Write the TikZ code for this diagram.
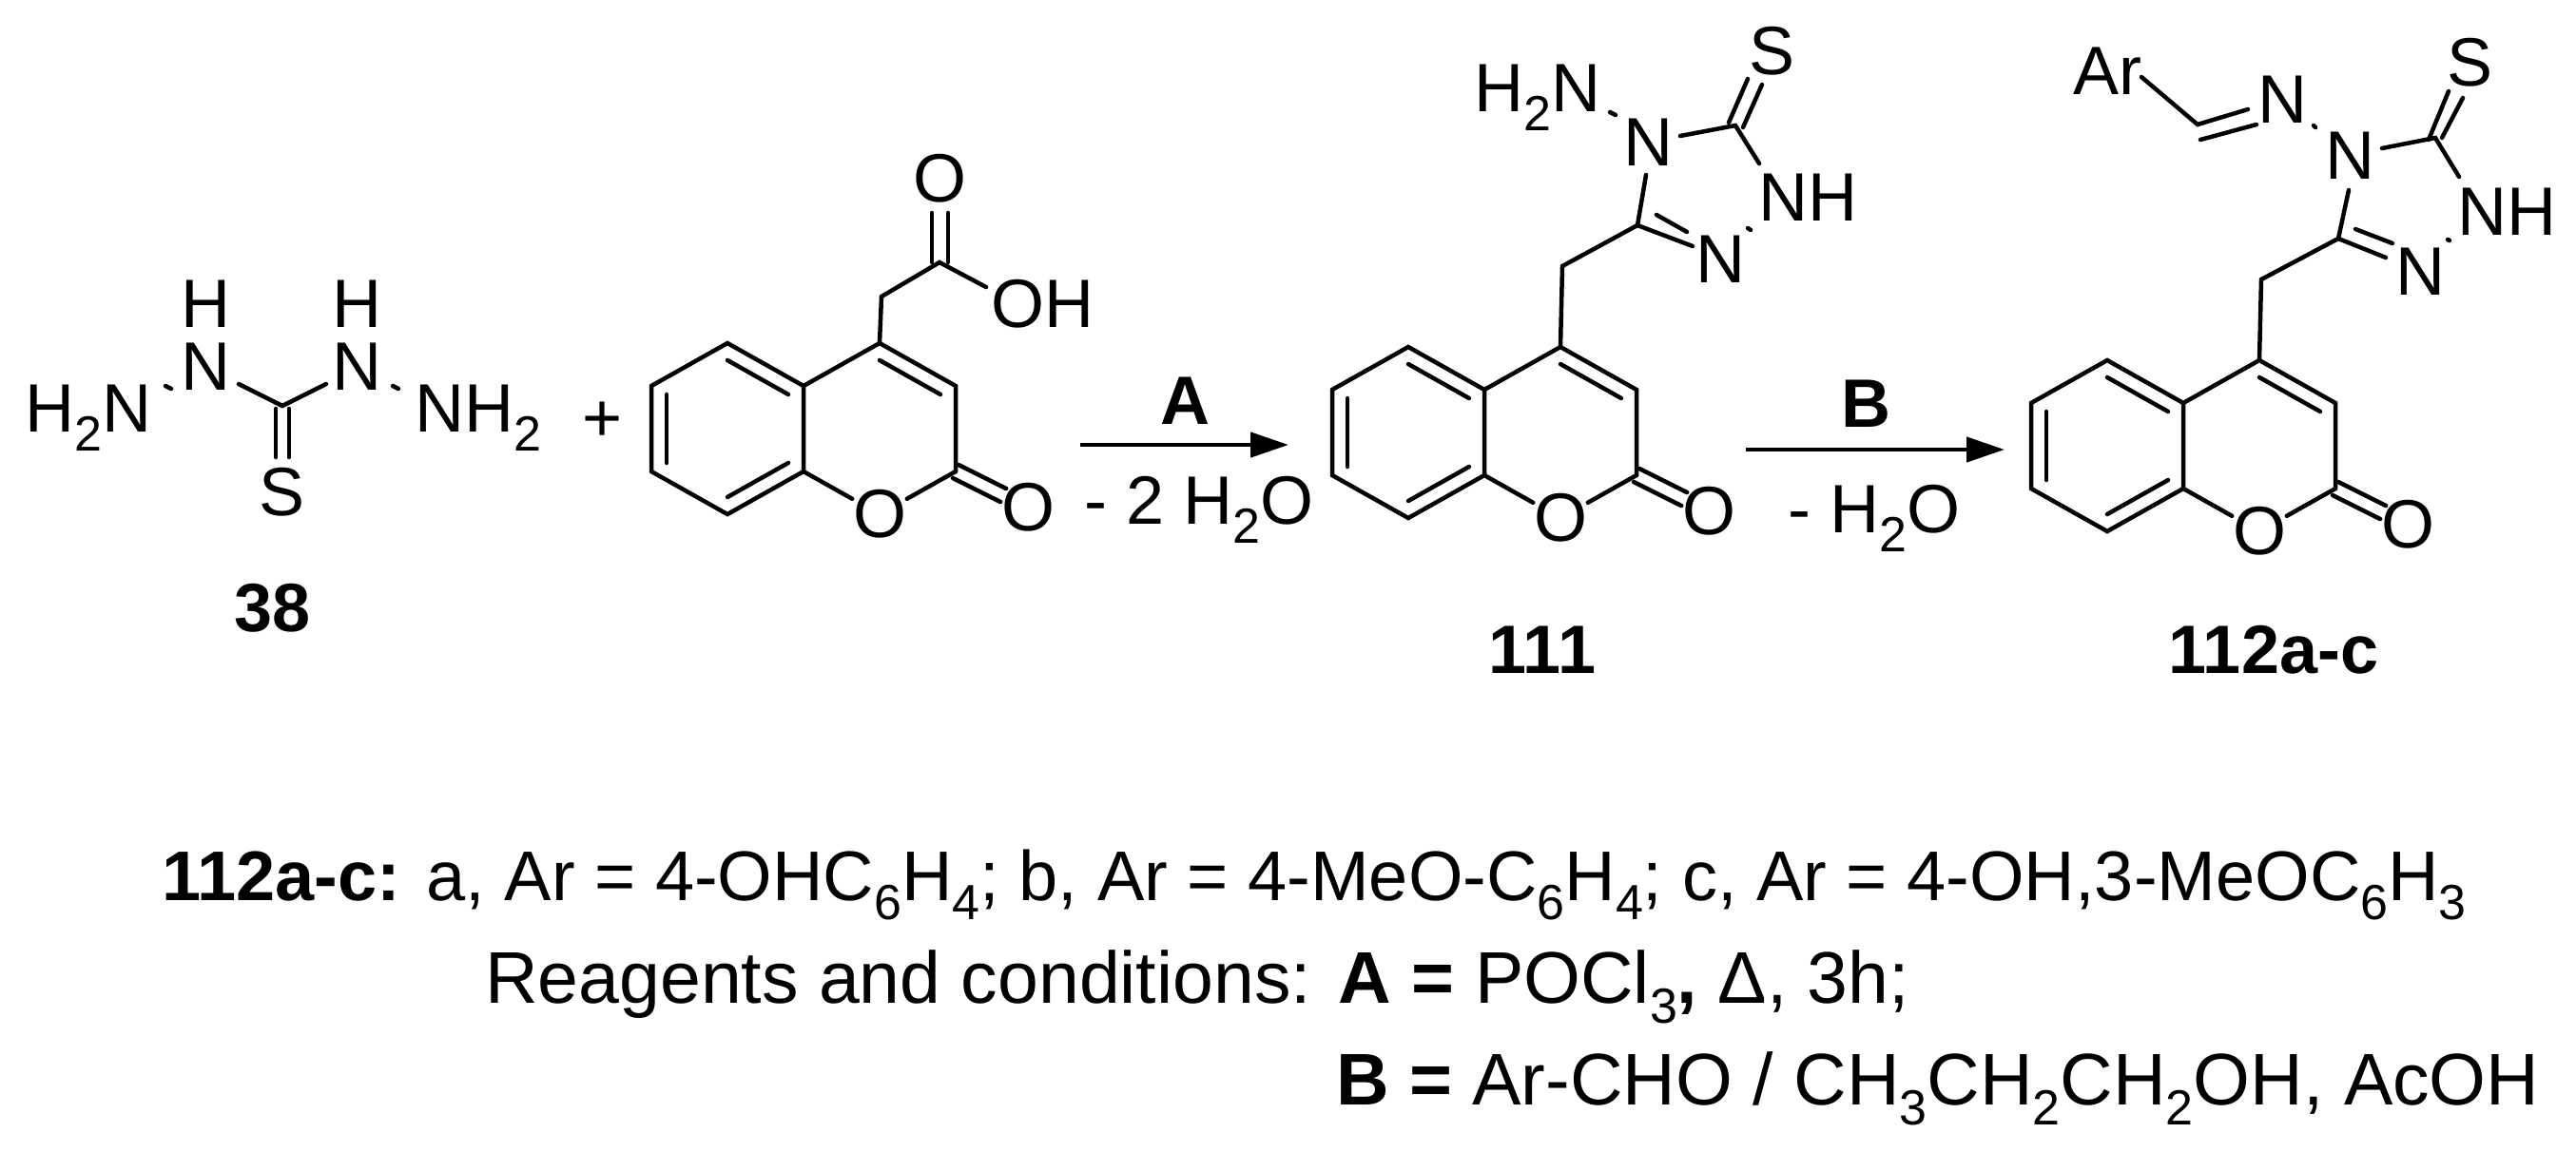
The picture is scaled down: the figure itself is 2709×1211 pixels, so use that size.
\documentclass[tikz,border=0pt]{standalone}
\usepackage{fontspec}
\setmainfont{Liberation Sans}
\usetikzlibrary{calc,arrows.meta}
\newcommand\subs[1]{\raisebox{-0.28em}{\fontsize{52}{52}\selectfont #1}}
\newcommand\coum[3]{%
\begin{scope}[shift={(#2,#3)}]
\coordinate (#1a) at (0,0);
\coordinate (#1t) at (-80,-45);
\coordinate (#1ul) at (-160,0);
\coordinate (#1ll) at (-160,90);
\coordinate (#1b) at (-80,135);
\coordinate (#1e) at (0,90);
\coordinate (#1c4) at (80,-45);
\coordinate (#1c3) at (160,0);
\coordinate (#1c2) at (160,90);
\coordinate (#1cb) at (-80,45);
\coordinate (#1cp) at (80,45);
\node[atom] (#1o1) at (80,135) {O};
\node[atom] (#1ox) at (236,128) {O};
\end{scope}
\draw[bond] (#1a)--(#1t)--(#1ul)--(#1ll)--(#1b)--(#1e)--cycle;
\draw[bond] (#1a)--(#1c4)--(#1c3)--(#1c2);
\draw[bond] ($(#1t)!0.2!(#1cb)$)--($(#1a)!0.2!(#1cb)$);
\draw[bond] ($(#1ul)!0.2!(#1cb)$)--($(#1ll)!0.2!(#1cb)$);
\draw[bond] ($(#1b)!0.2!(#1cb)$)--($(#1e)!0.2!(#1cb)$);
\draw[bond] ($(#1c4)!0.2!(#1cp)$)--($(#1c3)!0.2!(#1cp)$);
\draw[bond] (#1e)--($(#1e)!0.64!(#1o1.center)$);
\draw[bond] (#1c2)--($(#1c2)!0.64!(#1o1.center)$);
\draw[bond] ($(#1c2)+(3,-7)$)--($($(#1c2)!0.66!(#1ox.center)$)+(3,-7)$);
\draw[bond] ($(#1c2)+(-3,7)$)--($($(#1c2)!0.66!(#1ox.center)$)+(-3,7)$);
}
\begin{document}
\begin{tikzpicture}[x=1pt,y=-1pt,
  bond/.style={line width=4.5pt,line cap=round},
  atom/.style={inner sep=0pt,font=\fontsize{72}{80}\selectfont},
  lbl/.style={inner sep=0pt,font=\fontsize{72}{80}\selectfont,anchor=base},
  blbl/.style={inner sep=0pt,font=\fontsize{72}{80}\selectfont\bfseries,anchor=base},
  foot/.style={inner sep=0pt,anchor=base west},
  rxn/.style={line width=4.5pt,-{Triangle[length=40pt,width=26pt]}}]
\useasboundingbox (0,0) rectangle (2709,1211);
% ---- 38
\node[lbl,anchor=base east] (h2n) at (160,454) {H\subs{2}N};
\node[lbl] (n1) at (216,410) {N};
\node[lbl] (h1) at (216,344) {H};
\node[lbl] (n2) at (375,410) {N};
\node[lbl] (h2) at (375,344) {H};
\node[lbl,anchor=base west] (nh2) at (436,454) {NH\subs{2}};
\node[lbl] (s38) at (297,542) {S};
\coordinate (c38) at (297,427);
\draw[bond] (251,404)--(c38)--(343,404);
\draw[bond] (290,430)--(290,481);
\draw[bond] (304,430)--(304,481);
\draw[bond] (174,406)--(180,409);
\draw[bond] (413,406)--(419,409);
\node[blbl] (l38) at (287,664) {38};
\node[atom] (plus) at (634,444) {+};
% ---- acid
\coum{p}{845}{406}
\coordinate (pch2) at (927,312);
\coordinate (pcc) at (988,276);
\node[lbl] (po) at (988,212) {O};
\node[lbl,anchor=base west] (poh) at (1042,344) {OH};
\draw[bond] (pc4)--(pch2)--(pcc)--(1037,302);
\draw[bond] (980,276)--(980,224);
\draw[bond] (997,276)--(997,224);
% ---- arrow A
\coordinate (a1) at (1136,468);
\coordinate (a2) at (1355,468);
\draw[rxn] (a1)--(a2);
\node[blbl] (la) at (1246,446) {A};
\node[lbl,anchor=base west] (lw1) at (1140,551) {- 2 H\subs{2}O};
% ---- 111
\coum{q}{1561}{410}
\coordinate (qch2) at (1643,280);
\coordinate (qc5) at (1722,237);
\coordinate (qc3) at (1825,132);
\node[lbl] (qn4) at (1733,174) {N};
\node[lbl,anchor=base west] (qn2) at (1849,232) {NH};
\node[lbl] (qn1) at (1809,297) {N};
\node[lbl] (qs) at (1863,78) {S};
\node[lbl,anchor=base east] (qnh2) at (1684,117) {H\subs{2}N};
\draw[bond] (qc4)--(qch2)--(qc5)--(1731,184);
\draw[bond] (1767,143)--(qc3)--(1850,172);
\draw[bond] (1818,129)--(1838,83);
\draw[bond] (1833,134)--(1853,89);
\draw[bond] (qc5)--(1780,259);
\draw[bond] (1742,226)--(1774,244);
\draw[bond] (1838,240)--(1841,242);
\draw[bond] (1693,118)--(1699,121);
\node[blbl] (l111) at (1622,708) {111};
% ---- arrow B
\coordinate (b1) at (1836,473);
\coordinate (b2) at (2108,473);
\draw[rxn] (b1)--(b2);
\node[blbl] (lb) at (1962,449) {B};
\node[lbl,anchor=base west] (lw2) at (1880,560) {- H\subs{2}O};
% ---- 112
\coum{r}{2296}{424}
\coordinate (rch2) at (2378,294);
\coordinate (rc5) at (2459,251);
\coordinate (rc3) at (2561,145);
\coordinate (rch) at (2311,131);
\node[lbl] (rn4) at (2471,188) {N};
\node[lbl,anchor=base west] (rn2) at (2584,247) {NH};
\node[lbl] (rn1) at (2545,310) {N};
\node[lbl] (rs) at (2597,90) {S};
\node[lbl] (rnim) at (2400,129) {N};
\node[lbl,anchor=base east] (rar) at (2253,99) {Ar};
\draw[bond] (rc4)--(rch2)--(rc5)--(2470,200);
\draw[bond] (2505,156)--(rc3)--(2586,186);
\draw[bond] (2554,147)--(2575,96);
\draw[bond] (2568,145)--(2590,103);
\draw[bond] (rc5)--(2509,271);
\draw[bond] (2477,241)--(2516,256);
\draw[bond] (2574,252)--(2576,253);
\draw[bond] (2433,132)--(2435,134);
\draw[bond] (2252,81)--(rch)--(2364,115);
\draw[bond] (2314,147)--(2373,131);
\node[blbl] (l112) at (2391,708) {112a-c};
% ---- text
\node[foot,font=\fontsize{74}{80}\selectfont] (t1) at (170,947) {\textbf{112a-c:} a, Ar = 4-OHC\subs{6}H\subs{4}; b, Ar = 4-MeO-C\subs{6}H\subs{4}; c, Ar = 4-OH,3-MeOC\subs{6}H\subs{3}};
\node[foot,font=\fontsize{77}{80}\selectfont] (t2) at (510,1055) {Reagents and conditions: \textbf{A =} POCl\subs{3}\textbf{,} Δ, 3h;};
\node[foot,font=\fontsize{77}{80}\selectfont] (t3) at (1405,1162) {\textbf{B =} Ar-CHO / CH\subs{3}CH\subs{2}CH\subs{2}OH, AcOH};
\end{tikzpicture}
\end{document}
